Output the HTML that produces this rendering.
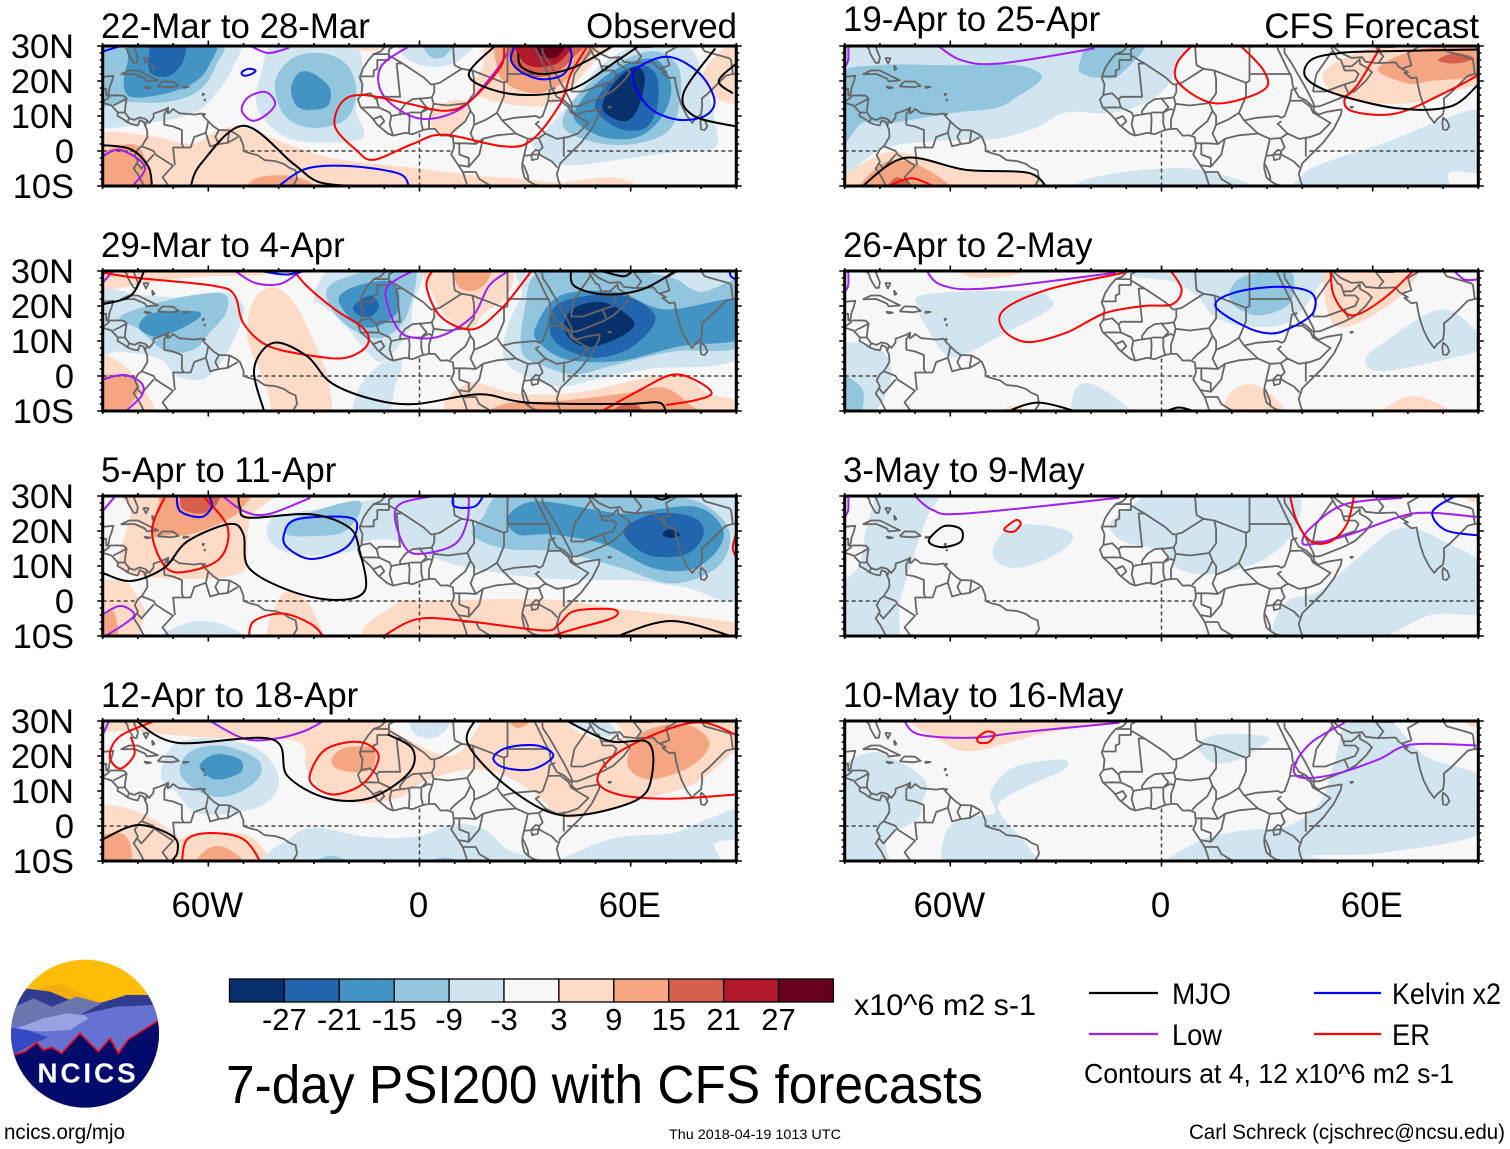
<!DOCTYPE html>
<html lang="en">
<head>
<meta charset="utf-8">
<title>7-day PSI200 with CFS forecasts</title>
<style>
html,body{margin:0;padding:0;background:#fff;width:1510px;height:1149px;overflow:hidden}
svg{display:block}
text{font-family:"Liberation Sans",sans-serif;fill:#000}
</style>
</head>
<body>
<svg id="chart" xmlns="http://www.w3.org/2000/svg" width="1510" height="1149" viewBox="0 0 1510 1149">
  <g id="panels"></g>
  <g id="colorbar"></g>

  <g transform="translate(0,950) scale(.33333)">
    <defs><clipPath id="logoClip"><circle cx="255" cy="251" r="222"/></clipPath></defs>
    <g clip-path="url(#logoClip)">
      <rect x="20" y="20" width="480" height="480" fill="#fdbc05"/>
      <polygon points="180,100 300,158 445,135 300,170 100,120" fill="#f4ad0c"/>
      <polygon points="20,190 75,115 150,125 210,150 305,158 380,135 445,135 500,200 500,320 20,320" fill="#2e3b8e"/>
      <polygon points="20,240 45,170 100,145 155,170 230,140 305,160 240,195 280,205 20,260" fill="#6a76ae"/>
      <polygon points="240,195 350,170 460,165 500,210 500,320 20,320 20,235 100,215" fill="#6672d2"/>
      <polygon points="50,235 130,205 200,190 250,195 265,205 210,240 120,245" fill="#98a3e2"/>
      <polygon points="20,232 80,240 145,262 100,280 50,310 20,320" fill="#3648c4"/>
      <polygon points="42,315 75,305 110,278 130,300 155,292 185,310 240,250 295,305 330,265 355,310 385,268 470,215 500,195 500,490 20,490 20,315" fill="#020a6c" stroke="#e8101e" stroke-width="5"/>
    </g>
    <text x="112" y="398" font-size="84" font-weight="700" textLength="295" lengthAdjust="spacing" style="fill:#fff">NCICS</text>
  </g>

  <text x="854" y="1015" font-size="30" textLength="182" lengthAdjust="spacingAndGlyphs">x10^6 m2 s-1</text>
  <line x1="1089" y1="993" x2="1158" y2="993" stroke="#000" stroke-width="2.2"/>
  <text x="1172" y="1004" font-size="30" textLength="59" lengthAdjust="spacingAndGlyphs">MJO</text>
  <line x1="1314" y1="993" x2="1381" y2="993" stroke="#0000ff" stroke-width="2.2"/>
  <text x="1392" y="1004" font-size="30" textLength="109" lengthAdjust="spacingAndGlyphs">Kelvin x2</text>
  <line x1="1089" y1="1034" x2="1158" y2="1034" stroke="#a020f0" stroke-width="2.2"/>
  <text x="1172" y="1045" font-size="30" textLength="50" lengthAdjust="spacingAndGlyphs">Low</text>
  <line x1="1314" y1="1034" x2="1381" y2="1034" stroke="#ff0000" stroke-width="2.2"/>
  <text x="1392" y="1045" font-size="30" textLength="38" lengthAdjust="spacingAndGlyphs">ER</text>
  <text x="1084" y="1083" font-size="28" textLength="370" lengthAdjust="spacingAndGlyphs">Contours at 4, 12 x10^6 m2 s-1</text>
  <text x="226" y="1103" font-size="54" textLength="757" lengthAdjust="spacingAndGlyphs">7-day PSI200 with CFS forecasts</text>
  <text x="4" y="1139" font-size="21" textLength="121" lengthAdjust="spacingAndGlyphs">ncics.org/mjo</text>
  <text x="669" y="1139" font-size="14" textLength="172" lengthAdjust="spacingAndGlyphs">Thu 2018-04-19 1013 UTC</text>
  <text x="1189" y="1139" font-size="21" textLength="316" lengthAdjust="spacingAndGlyphs">Carl Schreck (cjschrec@ncsu.edu)</text>
</svg>

<script>
/* ---------- categories and ticks ---------- */
const panelTitles = ["22-Mar to 28-Mar","29-Mar to 4-Apr","5-Apr to 11-Apr","12-Apr to 18-Apr","19-Apr to 25-Apr","26-Apr to 2-May","3-May to 9-May","10-May to 16-May"];
const latTickValues = [30,20,10,0,-10];
const latTickLabels = ["30N","20N","10N","0","10S"];
const lonTickValues = [-60,0,60];
const lonTickLabels = ["60W","0","60E"];
const colorbarLevels = [-27,-21,-15,-9,-3,3,9,15,21,27];
const colorbarColors = ["#08306b","#2166ac","#4393c3","#92c5de","#d1e5f0","#f7f7f7","#fddbc7","#f4a582","#d6604d","#b2182b","#67001f"];

/* ---------- PSI200 shaded regions: [value, [lon,lat,...]] ---------- */
const shade1 = [
 [-6,[-92,32,-54,32,-53,24,-59,15,-65,10.5,-78,8,-92,8.5]],
 [-12,[-92,32,-58,32,-58,24,-63,17,-72,14,-84,14,-92,14]],
 [-18,[-80,33,-58.5,33,-60,24,-65,19,-74,16,-82,15.5,-84,19,-83,25]],
 [-24,[-75,33,-67,33,-67,26,-71,21.5,-76,22,-77,26]],
 [-6,[-40,32,-20,32,-16,22,-18,12,-16,4,-27,2.5,-38,4,-46,12,-45,22]],
 [-12,[-41,20,-36,26.5,-28,28,-21,25,-18,18,-20,10,-26,7,-33,7,-39,11]],
 [-18,[-36.5,18,-34,22.5,-30,22,-25.5,18,-26,13,-31,11.7,-35,13]],
 [-6,[-6,32,15,32,12,26.5,5,24,-3,26]],
 [-12,[1,32,10,32,7,27,3,27]],
 [6,[-20,32,-10,32,-11,29,-18,29]],
 [6,[22,32,18,24,15,18,20,14.5,33,12.7,40,14.6,44,19,50,26,55,32]],
 [12,[24,32,22,24,25,19,33,16.5,40,19,44,23,50,32]],
 [18,[27,32,26,26,31,21.5,38,22,44,27,47,32]],
 [24,[28,32,29,26,33,24,39,25,43,29,45,32]],
 [30,[33,32,33.5,28,38,26.5,41,29,42,32]],
 [6,[3,8,4,12,10,14.5,14,13,11,6,6,5]],
 [6,[80,20,84,27,92,32,92,15,84,15]],
 [6,[-92,4,-78,4.5,-65,2,-58,5.5,-51,7,-40,3,-25,-2,0,-5,16,-7,30,-8,40,-9,55,-7.5,64,-11,64,-13,-92,-13]],
 [12,[-92,-2,-82,2,-78,-2,-77,-12,-92,-12]],
 [12,[-48,-13,-47,-8,-38,-7,-31,-9,-29,-13]],
 [-6,[32,2,37,-3,45,-4,60,-2,75,0,84,1,84,8,81,20,76,30,62,30,51,24,43,14,36,6]],
 [-12,[41.5,6,51,2.2,62,2.2,71,6,74,14.5,73.5,24,67,28.5,58,26,50,21,42,12]],
 [-18,[44,9,52,4,62,4,69,10,71.5,18.5,67.5,26,59,25,51,20,46,14.5]],
 [-24,[50,12,56.5,6.5,64,6.5,67.5,12.5,67.5,21,63.5,24.5,58,23,52.5,18]],
 [-30,[52,12,58,8.5,62,12,64,21,61,24,55,19]]
];
const shade2 = [
 [6,[-92,32,-40,32,-44,29,-60,28.5,-75,27,-92,24.5]],
 [-6,[-92,24,-78,23,-65,22.5,-56,24,-50,20,-52,12,-57,3,-62,-1,-69,0,-74,5,-85,7,-92,7]],
 [-12,[-85,17,-70,22,-56,23.5,-55,18,-60,12,-64,7.6,-72,7,-79.6,13.3]],
 [-18,[-79.6,14.8,-75.6,18,-63.4,18.5,-63.4,16,-73,11.4,-78.3,12.4]],
 [6,[-49,11.5,-47,22,-41,25.3,-35,20,-29,7.6,-26,-1,-26,-12,-40,-12,-43,-5,-46,3]],
 [-6,[-30,19,-29,26,-22,32,0,32,-2,20,-3,13,-10,4.3,-15,7,-22,15.5,-29,21]],
 [-6,[-18.5,-12,-17,-3,-10,4,-5,4,-7,-3,-9.5,-12]],
 [-12,[-26.5,24,-20,28.5,-2,32,-3,19,-7.5,12.4,-14,11,-22.5,16]],
 [-18,[-23,22,-17,26,-7.5,26.7,-6,19,-11.5,14.3,-17.7,14.8]],
 [-24,[-18.7,20,-14,23,-11.5,20,-14,17,-17.7,17.6]],
 [6,[2,32,4,23,7.5,17,14.3,13.3,18.4,18,25,23,25,32]],
 [12,[9.5,32,11,25.7,15,24.3,19,26.7,20,32]],
 [-6,[33,32,29,23,25,14,24,5,30,0,40,-3,50,-1,65,2,92,6,92,32]],
 [-12,[33,29,30,20,29,7,35,3,44,0.5,55,3,72,7,92,9,92,27,80,24,72,28,60,30,45,31]],
 [-18,[33,14,40,23,56,24,70,19,92,22,92,11,74,8.5,57,4.3,42,4.7,34,9.5]],
 [-24,[37,14,40,21,56.5,23.3,67,17,60.6,8.5,50,5.2,40,8.5]],
 [-30,[41,14,44,19.5,52.5,21,60.6,16,59,12.3,50,8.5,44,9.5]],
 [6,[-92,5,-85,3.8,-78,-4,-76,-12,-92,-12]],
 [12,[-92,-1,-84,0,-79.5,-3,-84,-10,-92,-12]],
 [6,[13.6,-2,28,-5,45,-4.7,72,0.5,82,-5,90,-7,92,-12,13,-12]],
 [12,[24,-8,41,-7,58,-5,69,-3.3,76,-7.6,76,-12,24,-12]],
 [18,[56,-9,61,-8,64,-10.5,64,-12,55,-12]]
];
const shade3 = [
 [6,[-85,14,-82,25,-82,32,-42,32,-48,24,-49,13,-50,8.5,-58,6.5,-74,6.6,-85,9]],
 [12,[-76,19,-74,28,-73,32,-49,32,-50,27,-55,23,-65,19,-70,19]],
 [18,[-68,29,-67,32,-57,32,-58,27,-62,25,-67,26]],
 [6,[-92,4,-84,5.5,-80,1,-78,-4,-82,-12,-92,-12]],
 [12,[-92,-5,-87,-3,-86,-11,-92,-12]],
 [-6,[-75,-12,-65,-6,-55,-7,-50,-12]],
 [6,[-43,-12,-39,2,-32,0,-28,-12]],
 [6,[-9,-12,-7,-1,3,0,35,0.5,58,-2.4,92,-6.7,92,-12]],
 [-6,[-43,18,-41,24,-24,27,-9,30,-9,32,92,32,92,1.5,75,4,60,6,46,6,30,7,14,9.5,5,12,-3,15,-8,17.5,-15,17,-20,14,-30,13,-38,14]],
 [-12,[-37.5,22,-32,25,-17,28.5,-21,20,-32,18.5,-37.5,19]],
 [-12,[15,19,18,24,24,31,45,32,65,31,80,28,88,20,85,10,72,5,57,9.5,40,14,24,15]],
 [-18,[25,24,33,28.5,52,25.7,59,25,78,27,86,21,84.5,14.3,77,9,66,9.5,52.5,16.2,37.5,19,28,19]],
 [-24,[58,20,67,25,78,23.8,80.7,19,75.6,13.3,64.7,13.3]],
 [-30,[69,19,71,20.5,74,19,71.5,18]]
];
const shade4 = [
 [6,[-92,32,92,32,92,23,88,20,78,12,65,8,52,4,41,2.5,33,9,25,14,15,16.2,2,13,-6,8,-17,6.5,-26,9,-32,16,-33,23,-40,25,-55,25,-70,26,-80,27,-92,27.5]],
 [0,[-8,33,-8,28,-2,24,8,20,14,24,16,33]],
 [-6,[-1.5,32,-2,27,3,25,7.5,27.5,9,32]],
 [0,[41,32,45,27,52,24.5,58,26,52,32]],
 [-6,[42,32,45,28,52,25.5,56,27,50,32]],
 [12,[59,18,63.5,26.7,75.6,29,82.4,23.8,77,17,65,13.3]],
 [12,[-25,19,-21,22.4,-13,22,-14,16,-22.5,16]],
 [12,[25,30.5,28,28,32,30.5,30,33,26,33]],
 [-6,[-73.5,14.3,-70,23,-59,25,-46,22,-40,14,-43,7,-52.5,3.8,-63.4,3.8,-69,9.5]],
 [-12,[-68,15,-65.4,21,-56.5,23,-46,19,-46,13.3,-54,8.6,-62,9.5]],
 [-18,[-62.5,17,-58,20.5,-51,19,-51,15.2,-58,13.3]],
 [6,[-92,4,-82,4.8,-68.8,-3,-68,-12,-92,-12]],
 [12,[-92,-4,-85,-2,-82,-6,-83,-12,-92,-12]],
 [6,[-68,-12,-68,-4,-60,-2,-48,-3,-44,-12]],
 [12,[-63,-12,-60.5,-6.7,-55,-6.2,-49,-12]],
 [-6,[-40,-12,-36,-3,-29,-0.5,-15.6,-3,-0.7,-3,10,0.5,18.4,-1,25,-6.7,35,-12]],
 [-12,[-32,-12,-25,-8.5,-18,-12]],
 [-12,[0,-12,7,-9,16,-12]],
 [-6,[40,-12,48,-6,58,-3,72,-2,82,2,92,5,92,-3,84,-5,82,-12]]
];
const shade5 = [
 [-6,[-92,-12,-86,-4,-78,1,-66,2.7,-54,3.2,-46,3.6,-35,7,-27,11,-13,11,-1,16,4,24,0,33,-92,33]],
 [-12,[-92,1,-85,8,-77,8,-60,10.8,-47,12.3,-41,15.5,-34,21,-41,24.5,-60,24.5,-80,24.5,-92,21]],
 [-12,[-23.5,24,-19,32,-4,32,-12,21.7,-18,21,-21,21.5]],
 [6,[-90,-12,-80,-1,-69,-1.5,-55.5,-5.4,-38,-6,-32,-10.5,-32,-12]],
 [12,[-85,-12,-79,-3.5,-70.5,-3.5,-61,-9,-60,-12]],
 [18,[-78,-12,-75,-7.5,-69,-12]],
 [-6,[40,-12,40,-7,46,-3.5,63,2.2,92,12,92,-5,82,-6,78,-12]],
 [-6,[-21,-12,-19,-7.5,8,-5,27,-12]],
 [6,[46,20,49,25,63,30,92,31,92,21,83,17,70,13.6,53,14.6]],
 [12,[61.5,23,67,27,76.5,29.5,92,29,92,22,76.5,20,70,19.3]],
 [18,[78.6,26,83.4,28,88.8,26.5,83.4,25]]
];
const shade6 = [
 [-6,[-69,19,-67,23.3,-38,24.3,-32,22.4,-32,19,-46,11.4,-57,5.7,-62,6.7,-67,14.3]],
 [-6,[-8,32,-8,28.5,3,27,10,23,15,17,23.5,14.3,35.7,15.2,44,24.8,44,32]],
 [-12,[19.3,23.8,23.4,28.5,35.7,30,37.7,25.7,35.7,20,27.5,17.3,20.7,20]],
 [6,[48,32,72,32,68,23,55,14.8,48,16]],
 [-6,[58,4.8,63,9.5,79.3,19,90,12.4,92,8,76.5,3.8,61.6,1.4]],
 [-6,[-92,8,-80,7.6,-76.7,0,-81.5,-10,-92,-12]],
 [-12,[-92,0,-85,-3.8,-86,-12,-92,-12]],
 [-6,[-25,-5,-21.5,-2,-14.7,-5,-8,-12,-24,-12]],
 [6,[-58,32,-34,32,-44,28.5,-55,28.5]],
 [6,[19.3,-5,26,-2.4,33.6,-7.6,34.3,-12,19,-12]],
 [6,[63.6,-9,72.5,-5.7,84,-12,62,-12]],
 [6,[-48,-12,-42,-8.5,-34,-12]]
];
const shade7 = [
 [-6,[-92,-12,-92,3,-86,10,-84,20,-82,27,-80,32,-63,32,-67,23,-74,1,-76,-12]],
 [-6,[-47.4,16.2,-42,21.4,-32,21.4,-25,18.6,-30,13.3,-40.6,9.5,-47,11.4]],
 [-6,[-14.7,21.9,-8,27.6,0,31,36,32,38,21,30,12.4,19.3,8.6,11,7.6,4.4,9.5,0.3,14.3,-10.6,17]],
 [-6,[31.6,-7.6,35.7,0,45,2.9,56,12.4,68.4,21,82,16.2,92,9.5,92,-3,76.5,-4,60,-11,34,-12]],
 [6,[-30,32,-25,29.5,-20,32]],
 [6,[87,32,87,29,92,28,92,32]]
];
const shade8 = [
 [6,[-69,32,-61,23.3,-54,21.4,-43.3,23.8,-32.4,26.7,-10.6,30,-10,32]],
 [-6,[-92,13.5,-83,21,-73.7,18,-66.9,12.4,-68,6.7,-69.4,2,-78,-3.8,-78,-12,-92,-12]],
 [-6,[-61.7,-3,-57,2,-47.4,3.8,-48.7,9.5,-42,16.7,-28.3,19,-27.6,16.2,-38,11.4,-46,6.7,-44.7,2,-38,-5.7,-36.5,-12,-60,-12]],
 [-6,[10.5,23.8,16.6,26.2,29,25.7,29.6,23.8,22,19,15.3,18,11.2,21]],
 [-6,[4.4,-12,9.8,-4.8,22,-1.4,35.7,0,45,6.7,49.3,19,53.4,32,63,32,75,20,92,13.3,92,-1.4,63,-7.6,42,-8.6,60,-12]],
 [6,[87,32,87,29,92,28,92,32]]
];

/* ---------- contour lines: [lon,lat,...]; repeated first point = closed ---------- */
const mjo1 = [[-90,1.7,-82,0.5,-77,-4.5,-76,-10.5],[-65,-10,-62,-3.5,-50,7.2,-36,-3.5,-29,-8.7,-20,-10],[22,30.5,14,22,21,17.4,32,16,44,18,55,25,63,30.5],[28,28,29,24,35,22,44,24,55,30],[84,29.3,75,16.5,78,10,90,7],[89,16.5,85,20,90,25]];
const kelvin1 = [[-40,-10,-32,-5,-20,-4.3,-6,-6.4,-3,-10],[-50.5,22.5,-48.5,23.5,-46.6,23,-47.7,22,-49.8,21.5,-50.5,22.5],[27,30,26,26,29,22.5,35,20.5,41,22,43.2,27,42,31],[60.5,21,64,25,71.5,26.8,79.7,22,83.8,14.5,81,10,73,9,65,12.7,60.5,21],[-90,28.4,-85,30]];
const low1 = [[-48,30,-43,28,-37,29.5],[-50.5,11.7,-48.5,15.5,-43.6,16.8,-41,13.5,-44,10,-47.7,8.7,-50.5,11.7],[-2,30.5,-11,24,-10,15.5,0,9.3,11.6,12,21,22,25,28],[-90,-1.5,-85,0.3,-78,-4.5,-82,-10.5]];
const er1 = [[24,30.5,23,24,14,14,7,11.5,-3,13.5,-16,16,-22,14,-24,7,-18,0.3,-13,-2.5,-2,2,7,4.7,24,1.3,32,3.2,40,13.5,43,22,48,30.5]];

const mjo2 = [[-90,20.5,-82,23,-78,30.5],[-44,-10.5,-47,2,-41.5,9.5,-32,5.7,-25,-2,-13,-6.7,-1,-8,17,-5.2,30.6,-7.6,58,-8,68,-7.6,70,-10.5],[43,30.5,44,25.7,52.5,23.3,63.4,24.8,73.5,30.5],[51.8,30,58,28.5,61,30.5]];
const kelvin2 = [[-44,29.8,-37.5,29,-31,30.5],[88,30.5,88.5,28.5,90,27.5]];
const low2 = [[-90,26.7,-87,30],[-53,30.5,-47,26.7,-40,26.2,-35,29,-33,30.5],[-1,30.5,-9,25.7,-9,20,-6,13.3,-2,11,6,11.4,15,17,19.7,25.7,24.5,29.5,26,30.5],[-90,-1,-84,0.3,-79,-2,-79,-5.7,-84,-10.5]];
const er2 = [[-90,29.5,-80,28,-58,25.7,-52.5,23,-50,15,-43,8.6,-30,5.7,-21,5.2,-15,8.6,-15.6,13.3,-24,19,-32,25.7,-36,30.5],[4,30.5,2,25.7,6,17,15,13.3,23,19,30,27.6,32,30.5],[51,-10.5,63,-3.8,72,0.4,79,-1.5,83,-5,78,-7,70,-8.3]];

const mjo3 = [[-90,8,-82,5.7,-72.5,9.5,-66,17,-54,22,-50,19,-48.5,9.5,-37,3,-24,0.3,-15.5,3,-17,14.3,-20,21,-31,24.8,-48.5,23.8,-51,26.7,-51.5,30.5],[55,-10.5,71.5,-5.7,90,-10.5],[66,30,69,29,73,30.5]];
const kelvin3 = [[-38.5,19,-35,23.3,-21,24,-17.7,21.4,-21,15.2,-30.6,12,-37.5,15.2,-38.5,19],[-69,30.5,-68,25.7,-62,24,-59,27,-60,30.5],[9.5,30,10,27,15.7,27,18.4,30.5]];
const low3 = [[-86,30.5,-90,25.7],[-90,-10.5,-84,-6.7,-81,-3.8,-85,-1.4,-90,-3.8],[-56.5,30.5,-50,25.7,-43,24.8,-31,29.5],[4,30,-5,28,-7,23.8,-4,15.2,0.7,13.5,10,16.2,13.6,23,14,30.5]];
const er3 = [[-72,30.5,-76,20,-72,9.5,-65,8.6,-56.5,12.4,-54.5,21,-61,29.5],[-48.5,-10.5,-47,-5.7,-38.8,-3.6,-30.6,-6.7,-27,-10.5],[-11,-10.5,-0.7,-5.2,13,-5.7,35,-8.4,39.5,-6.7,44,-2.9,55,-2.4,55,-4.8,44,-8,36,-10.5],[90,19.5,89,15.2,90,12.4]];

const mjo4 = [[-81,30.5,-69,23.8,-42,24.8,-37.5,14.3,-26.5,8,-14,8,-3,15.2,-2,22,-9,26.2],[16,30.5,13.6,23.8,22.5,13.3,36,4.3,47,3.3,62,7.6,66,14.3,65,23.8,54,24.3,41,30.5],[-90,-3.8,-80,0.3,-70,-3,-68.8,-7.6,-71,-10.5]];
const kelvin4 = [[21,19.5,25,22.4,33.4,23,38,20,32,16.2,24,16.7,21,19.5]];
const low4 = [[-88,30.5,-90,26],[-59.5,30,-50,25,-42,24.8,-33,27,-26.5,30.5]];
const er4 = [[-74,30.5,-85,25.7,-88,20,-85,16.4,-81,20.5,-82,25.5],[-31,15.2,-26.5,22,-17,24,-11.6,20,-15.7,12.4,-24,9,-30,11.4,-31,15.2],[-67.5,-10.5,-66,-3.8,-59,-2,-50,-3.8,-45,-10.5],[90,9,71.5,7.8,56.5,9,50.5,13.3,56.5,21,71.5,28,81,29.5,90,26]];

const mjo5 = [[-85.5,-10.5,-73,-2,-55.5,-5.4,-38,-6.2,-32.5,-10.5],[90,19,82,12.7,67,12.2,49,16.5,41,21,42.5,26,50.7,28,63,28.5,90,29]];
const kelvin5 = [];
const low5 = [[-89,30.5,-89,26,-90,24],[-64,30.5,-57,26,-46,25,-19,29.3]];
const er5 = [[9,30.5,4.4,25,5,19.3,15.3,13.6,29,17.4,29,23,22,30.5],[62,29.3,56,19.3,52,14.6,54.8,11.2,67,10.8,82,17.4,90,21.7],[-77.5,-10,-71,-7.8,-65,-10]];

const mjo6 = [[-44.7,-10.5,-35,-7.6,-23,-10.5],[0.3,-10.5,5,-9,10.5,-10.5]];
const kelvin6 = [[15.3,20,20.7,23.8,33,25.5,42.5,23.8,43,18,35.7,13.3,30.2,12.2,23.4,14.3,15.3,20]];
const low6 = [[-89,30.5,-89,26,-90,24],[-67,30.5,-62.5,26,-50,25,-13,29.5],[82.7,30.5,86,27.6,90,27.6]];
const er6 = [[-10.6,29.5,-32,24.8,-44.7,19,-45,13.3,-38,9.7,-27,12.4,-16,18,-5,20,3,20.5,5.7,24.8,2.3,30.5],[48,30.5,49,22.9,54,17.3,63,22,72,30.5]];

const mjo7 = [[-65.8,18,-61.7,21.4,-57,20.5,-57,17,-61.7,15.4,-65.4,16.2,-65.8,18]];
const kelvin7 = [[83.4,30,77,25.5,80.6,20.3,90,18.7]];
const low7 = [[-89,30.5,-89,26,-90,24],[-70.5,30.5,-65,26,-55.6,25,-12,29.5],[68.4,29.5,52,27.6,42.5,21,40,17,42.5,16.2,53.4,19,68.4,24.3,76.6,25.2,89.5,24]];
const er7 = [[-44.7,20.5,-41.3,23.1,-40,22,-42,19.8,-44.7,20.5],[36.4,30.5,38.4,22.9,42.5,17,48,17,52.7,22,54.8,30.5]];

const mjo8 = [];
const kelvin8 = [];
const low8 = [[-73.3,30.5,-69,26.2,-54,25.2,-40.6,26.7,-12,29.5],[52,29.5,42.5,23.8,37.7,17,39.8,13.8,49.3,14.8,61.6,19,71,23.3,89.5,23]];
const er8 = [[-52.2,25.2,-49.6,27,-47.4,26.2,-49,24,-51.8,23.8,-52.2,25.2]];

const shadeFields = [shade1,shade2,shade3,shade4,shade5,shade6,shade7,shade8];
const mjoContours = [mjo1,mjo2,mjo3,mjo4,mjo5,mjo6,mjo7,mjo8];
const kelvinContours = [kelvin1,kelvin2,kelvin3,kelvin4,kelvin5,kelvin6,kelvin7,kelvin8];
const lowContours = [low1,low2,low3,low4,low5,low6,low7,low8];
const erContours = [er1,er2,er3,er4,er5,er6,er7,er8];

/* ---------- map outlines: lon,lat ---------- */
const coastlines = [
 [-81.5,31,-81.3,30,-80.5,28,-80,26.8,-80.3,25.2,-81.2,25.2,-82,26.5,-82.8,28,-83,29,-84,30,-86,30.4,-89,30.3,-90,29.5],
 [-90,21.2,-87,21.5,-87.5,19.5,-88,18.3,-88.3,16.5,-88.9,15.8,-86,15.9,-84,15.8,-83.2,15,-83.6,12.5,-83.7,11,-82.5,9.4,-81,8.9,-79.6,9.6,-78,9.2,-77.4,8.7,-76.8,8,-75.6,9.5,-75.5,10.7,-74,11.2,-72,12,-71.4,12.4,-71.5,10.8,-71,11,-70,12,-68.3,10.8,-66,10.6,-64,10.4,-62,10.7,-61,9.5,-60,8.5,-58.5,7,-57,6,-54,5.9,-52,4.8,-51,4,-50,1.5,-50,0,-48,-0.7,-46,-1.2,-44,-2.6,-41,-2.9,-38.5,-3.7,-37,-4.8,-35.2,-5.5,-34.8,-8,-36,-10,-37,-11],
 [-90,13.8,-87.5,13,-85.7,11,-85.8,10,-84,9,-83,8.2,-81.5,7.6,-80,7.3,-79.5,8.8,-78.3,8.3,-78,7.4,-77.4,6,-77.3,4,-78.8,1.5,-80,0.5,-80.9,-1.2,-80,-3,-81.2,-5,-79.8,-7,-78.5,-9.5,-77.5,-11],
 [-9.8,31,-9.6,30,-11,28.5,-13,27.7,-14.5,26,-16,23.7,-17,21,-16.2,19,-16.5,16,-17.5,14.7,-16.7,12.5,-15,11,-13.5,9.5,-12,7.5,-9,5,-7.5,4.4,-4,5.2,-2,4.8,1,6,2.7,6.3,4.4,6.3,6,4.4,8,4.5,9.5,3.9,9.8,1,9,-1,11,-4,12.3,-6,13.3,-9,13.7,-11],
 [32.6,30,33.7,27.8,35.5,24,37,21,37.3,18.5,39,15.5,41,14.5,43.2,12.5,43.3,11.5,44.5,10.4,47,11.2,51.2,11.9,51,10.5,49,6.5,46,2.5,42,-1.5,40,-3.5,39,-6.5,39.5,-8.5,40.5,-11],
 [34.9,29.5,35,28,37,25,39,21.5,41,18,43,14,43.5,12.7,45,12.8,48,14,52,15.6,55,17.2,58,20,59.8,22.5,58.5,23.7,56.4,24.9,56.3,26.2,55,25,54,24.2,51.6,24.2,51,26,50,26.5,48.5,29,48,30],
 [48.5,30,51,28,54,26.6,57,26.8,58,25.5,61.5,25.1,66.5,25.3,67.5,24,68.5,23.4,70,22.5,69,22.3,71,20.8,72.5,21,72.8,19,73.5,16,74.5,13,76,10,77.5,8,78.2,9,80,10.5,80.3,13,80.2,15,82,16.5,85,19.5,87,21.5,89,22,90,22]
];
const islands = [
 [-84.9,21.9,-82.5,23,-80,23,-77,21.5,-74.3,20.2,-77.5,19.9,-78,20.7,-81,22,-84.9,21.9],
 [-74.4,18.5,-73,19.9,-70,19.8,-68.4,18.6,-70.5,18.2,-74.4,18.5],
 [-78.3,18.4,-76.3,18.1,-77.5,17.9,-78.3,18.4],
 [-67.2,18.4,-65.6,18.3,-67,18,-67.2,18.4],
 [-78.5,26.6,-77,26.5,-77.7,25,-78.5,26.6],
 [-76,24.5,-75.3,23.5,-75.8,23.2,-76,24.5],
 [-61.7,16.4,-61.2,16.3,-61.5,15.9,-61.7,16.4],
 [-61.2,14.8,-60.9,14.6,-61,14.4,-61.2,14.8],
 [-61.5,10.7,-60.9,10.5,-61.5,10.1,-61.5,10.7],
 [53.5,12.6,54.4,12.6,54,12.3,53.5,12.6],
 [80,9.6,81.2,8.5,81.8,7,81,6,80,6.2,79.8,8,80,9.6],
 [31.7,-1,33,0.3,34,0,33.6,-2.2,32,-2.6,31.7,-1],
 [29.2,-3.5,29.8,-4.5,30.8,-7,31,-8.6,29.8,-7.5,29.2,-5,29.2,-3.5]
];
const countryBorders = [
 [-13.2,27.7,-8.7,27.7,-8.7,29,-7,30,-4,30.5],
 [-8.7,27.7,-8.7,26,-12,26,-12,23.5,-13,23,-13,21.3,-17,21.3],
 [-8.7,27.3,-4.8,25,1.2,21,3.3,19,4.2,19.1,4.2,16.8,3.5,15.3,1,15,-0.5,15],
 [-4.8,25,-6.5,25,-5.5,15.5,-11.5,15.5,-12.2,14.7,-14,16.5,-16.5,16],
 [-12.2,14.7,-11.5,12.4,-13.7,12.5,-16.7,12.4],
 [-11.5,12.4,-8.5,11,-8,10,-8.5,7.6,-7.5,4.4],
 [-13.3,9,-11,10,-10,8.5,-11.5,7],
 [-8,10,-5.5,10.5,-3,10.8,-2.8,9,-3,5],
 [-5.5,10.5,-5.5,11.5,-4,13.5,-2,14.8,0,15,2,12.5,0.5,11,-2.8,11],
 [0.5,11,0.5,8,1,6],
 [0.5,11,2.5,12,3.6,11.7,2.7,9,2.7,6.3],
 [3.6,11.7,4,13.5,8,13,13.6,13.7,14.5,11.5,13,8.5,10,6,8.7,4.6],
 [4,13.5,3.5,15.3],
 [4.2,19.1,5.8,19.5,12,23.5,15,23,15.5,20.5,15.5,16.5,13.5,13.7],
 [9.5,31,9.8,26,10,24.5,12,23.5],
 [15,23,24,19.5,24,15.7,22.9,13,22,10.9,19,9,15.5,7.5,14.5,5,16,2,13,2.2,9.8,2.2],
 [25,31,25,20,24,19.5],
 [25,22,36.9,22],
 [14.5,11.5,15.5,10,15.5,7.5],
 [22,10.9,23.5,8.7,27,9.5,33,10,34.1,9.5,35,10,36.5,14.3,37,17.5,38.6,18],
 [23.5,8.7,27.4,5,30.8,3.5,33.9,3.7,35.8,5,33,7.8,34.1,8.5],
 [16,2,18,3.5,22,4.5,27.4,5],
 [11,-4,14,-4.5,17,-1,18,3.5],
 [9.8,2.2,11.3,2.2,11.3,-1,14,-2,14,-4.5],
 [12,-6,16,-6,17,-8,22,-11],
 [30.8,3.5,29.7,-1.4,29.2,-3.5],
 [29.7,-1.4,33,-1,34,-1],
 [33.9,3.7,35,1,34,0,34,-1,37.6,-3,39.2,-4.7],
 [31,-8.6,32.5,-9.5,34.5,-10,36,-11],
 [36.5,14.3,40,14.4,42.4,12.5,43,11,48,8,45,5,41.9,3.9,41,3.9,41,-1.6],
 [35.8,5,39,3.5,41.9,3.9],
 [43,17,46.5,17,52,19,55,20,56,22,55,23,52,23,51.6,24.2],
 [52,19,53,16.6],
 [43,17,44,22,48.5,28.5],
 [35,30,37,30,39,32],
 [61.5,25,63,27,61,29.5,61,31],
 [61,29.7,66,29.7,67,31],
 [68.5,23.6,71,24.5,70,28,73.5,30,74.5,32],
 [80,30,81,28.5,88,26.5,88.5,26,89,22],
 [-89,18,-89,16,-88.9,15.8],
 [-92,14.5,-90,17.5,-89,17.9],
 [-90,14,-88,15.5],
 [-87,13,-85,14,-83.2,15],
 [-85.7,11,-83.7,11],
 [-83,8.2,-82.5,9.4],
 [-77.4,8.7,-77.9,7.2],
 [-71.5,12,-72.5,10.5,-72.5,7.5,-70,7,-67.5,6,-67.5,2,-67,1],
 [-67,1,-70,1,-69.5,-4],
 [-78.8,1.3,-75.5,0,-75,-1,-70,-4.2,-73,-7.5,-70.5,-11],
 [-80.3,-3.4,-79,-5,-75.5,-1],
 [-70.5,-11,-65.5,-10,-65,-12],
 [-67,1,-65,1,-64,4,-60.7,5.2,-60,8.5],
 [-60.7,5.2,-59.5,1.3,-57,2,-58,4,-57,6],
 [-57,2,-54.5,2.3,-54,5.8],
 [-54.5,2.3,-51.6,4]
];
const equatorDashSegments = [[-90,-80],[-50,9.5],[42,90]];
const meridianDashSegment = [5,-10];

/* ---------- layout and axis functions ---------- */
const plotTop = [46,271,496,721];
const plotCenter = [419.5,1161.5];
const pxPerLon = 3.52, pxPerLat = 3.5;
const xScale = (col,lon) => plotCenter[col] + lon*pxPerLon;
const yScale = (row,lat) => plotTop[row] + (30-lat)*pxPerLat;
const NS = 'http://www.w3.org/2000/svg';
const mk = (tag,parent) => { const e = document.createElementNS(NS,tag); parent.appendChild(e); return e; };
const bin = v => { let i = 0; while (i < colorbarLevels.length && v > colorbarLevels[i]) i++; return colorbarColors[i]; };

function project(flat,col,row){
  const p = [];
  for (let i = 0; i < flat.length; i += 2) p.push([xScale(col,flat[i]), yScale(row,flat[i+1])]);
  return p;
}
function smoothPath(p,closed){
  const n = p.length;
  const at = i => closed ? p[(i+n)%n] : p[Math.max(0,Math.min(n-1,i))];
  const last = closed ? n : n-1;
  let d = 'M'+p[0][0].toFixed(1)+' '+p[0][1].toFixed(1);
  for (let i = 0; i < last; i++){
    const a = at(i-1), b = at(i), c = at(i+1), e = at(i+2);
    d += 'C'+(b[0]+(c[0]-a[0])/6).toFixed(1)+' '+(b[1]+(c[1]-a[1])/6).toFixed(1)+' '+(c[0]-(e[0]-b[0])/6).toFixed(1)+' '+(c[1]-(e[1]-b[1])/6).toFixed(1)+' '+c[0].toFixed(1)+' '+c[1].toFixed(1);
  }
  return d + (closed ? 'Z' : '');
}
function straightPath(flat,col,row){
  return project(flat,col,row).map((q,i)=>(i?'L':'M')+q[0].toFixed(1)+' '+q[1].toFixed(1)).join('');
}
function drawContours(group,list,col,row,color,name){
  list.forEach(flat => {
    let pts = project(flat,col,row);
    const closed = flat[0]===flat[flat.length-2] && flat[1]===flat[flat.length-1];
    if (closed) pts = pts.slice(0,-1);
    const line = mk('path',group);
    
    
    line.setAttribute('d', smoothPath(pts,closed));
    line.setAttribute('fill','none');
    line.setAttribute('stroke',color);
    line.setAttribute('stroke-width','2');
  });
}

const root = document.getElementById('panels');
panelTitles.forEach((title,idx) => {
  const col = idx < 4 ? 0 : 1, row = idx % 4;
  const left = xScale(col,-90), right = xScale(col,90), top = yScale(row,30), bottom = yScale(row,-10);

  const panel = mk('g',root);
  
  

  const clip = mk('clipPath',panel);
  clip.setAttribute('id','clip'+idx);
  const clipRect = mk('rect',clip);
  clipRect.setAttribute('x',left); clipRect.setAttribute('y',top);
  clipRect.setAttribute('width',right-left); clipRect.setAttribute('height',bottom-top);

  const body = mk('g',panel);
  body.setAttribute('clip-path','url(#clip'+idx+')');

  const bg = mk('rect',body);
  
  
  bg.setAttribute('x',left); bg.setAttribute('y',top);
  bg.setAttribute('width',right-left); bg.setAttribute('height',bottom-top);
  bg.setAttribute('fill',bin(0));

  shadeFields[idx].forEach(item => {
    const region = mk('path',body);
    
    
    region.setAttribute('d', smoothPath(project(item[1],col,row),true));
    region.setAttribute('fill', bin(item[0]));
  });

  equatorDashSegments.forEach(seg => {
    const eq = mk('line',body);
    
    
    eq.setAttribute('x1',xScale(col,seg[0])); eq.setAttribute('x2',xScale(col,seg[1]));
    eq.setAttribute('y1',yScale(row,0)); eq.setAttribute('y2',yScale(row,0));
    eq.setAttribute('stroke','#444'); eq.setAttribute('stroke-width','1.5'); eq.setAttribute('stroke-dasharray','4 3');
  });
  const mer = mk('line',body);
  
  
  mer.setAttribute('x1',xScale(col,0)); mer.setAttribute('x2',xScale(col,0));
  mer.setAttribute('y1',yScale(row,meridianDashSegment[0])); mer.setAttribute('y2',yScale(row,meridianDashSegment[1]));
  mer.setAttribute('stroke','#444'); mer.setAttribute('stroke-width','1.5'); mer.setAttribute('stroke-dasharray','4 3');

  const map = mk('path',body);
  
  
  map.setAttribute('d', coastlines.concat(islands,countryBorders).map(s=>straightPath(s,col,row)).join(''));
  map.setAttribute('fill','none');
  map.setAttribute('stroke','#666');
  map.setAttribute('stroke-width','1.8');
  map.setAttribute('stroke-linejoin','round');

  drawContours(body,lowContours[idx],col,row,'#a020f0','low-contour');
  drawContours(body,erContours[idx],col,row,'#ff0000','er-contour');
  drawContours(body,kelvinContours[idx],col,row,'#0000ff','kelvin-contour');
  drawContours(body,mjoContours[idx],col,row,'#000000','mjo-contour');

  const frame = mk('rect',panel);
  
  
  frame.setAttribute('x',left); frame.setAttribute('y',top);
  frame.setAttribute('width',right-left); frame.setAttribute('height',bottom-top);
  frame.setAttribute('fill','none'); frame.setAttribute('stroke','#000'); frame.setAttribute('stroke-width','3');

  let tickPath = '';
  for (let lon = -90; lon <= 90; lon += 10){
    const len = lon % 60 === 0 ? 5.5 : 3, x = xScale(col,lon);
    tickPath += 'M'+x+' '+top+'V'+(top-len)+'M'+x+' '+bottom+'V'+(bottom+len);
  }
  for (let lat = -10; lat <= 30; lat += 2){
    const len = lat % 10 === 0 ? 5.5 : 3, y = yScale(row,lat);
    tickPath += 'M'+left+' '+y+'H'+(left-len)+'M'+right+' '+y+'H'+(right+len);
  }
  const ticks = mk('path',panel);
  
  
  ticks.setAttribute('d',tickPath);
  ticks.setAttribute('stroke','#000');
  ticks.setAttribute('stroke-width','1.6');

  const titleY = [38,257,482,707][row] - (idx === 4 ? 7 : 0);
  const label = mk('text',panel);
  
  
  label.setAttribute('x', col ? 843 : 101);
  label.setAttribute('y', titleY);
  label.setAttribute('font-size','34.8');
  label.textContent = title;

  if (col === 0) {
    latTickValues.forEach((lat,i) => {
      const t = mk('text',panel);
      
      
      t.setAttribute('x',74);
      t.setAttribute('y',yScale(row,lat)+12);
      t.setAttribute('text-anchor','end');
      t.setAttribute('font-size','34.4');
      t.textContent = latTickLabels[i];
    });
  }
  if (row === 3) {
    lonTickValues.forEach((lon,i) => {
      const t = mk('text',panel);
      
      
      t.setAttribute('x',xScale(col,lon)-1);
      t.setAttribute('y',917);
      t.setAttribute('text-anchor','middle');
      t.setAttribute('font-size','34.8');
      t.textContent = lonTickLabels[i];
    });
  }
});

const cornerObserved = mk('text',root);


cornerObserved.setAttribute('x',737); cornerObserved.setAttribute('y',38);
cornerObserved.setAttribute('text-anchor','end'); cornerObserved.setAttribute('font-size','34.8');
cornerObserved.textContent = 'Observed';

const cornerForecast = mk('text',root);


cornerForecast.setAttribute('x',1479); cornerForecast.setAttribute('y',38);
cornerForecast.setAttribute('text-anchor','end'); cornerForecast.setAttribute('font-size','34.8');
cornerForecast.textContent = 'CFS Forecast';

/* ---------- colorbar ---------- */
const cb = document.getElementById('colorbar');
const cbLeft = 229.5, cbBoxW = 54.9, cbTop = 979, cbH = 23;
colorbarColors.forEach((c,i) => {
  const box = mk('rect',cb);
  
  
  box.setAttribute('x',cbLeft+i*cbBoxW); box.setAttribute('y',cbTop);
  box.setAttribute('width',cbBoxW); box.setAttribute('height',cbH);
  box.setAttribute('fill',c); box.setAttribute('stroke','#000'); box.setAttribute('stroke-width','1.3');
});
colorbarLevels.forEach((v,i) => {
  const t = mk('text',cb);
  
  
  t.setAttribute('x',cbLeft+(i+1)*cbBoxW);
  t.setAttribute('y',1030);
  t.setAttribute('text-anchor','middle');
  t.setAttribute('font-size','31');
  t.textContent = String(v);
});
</script>
</body>
</html>
